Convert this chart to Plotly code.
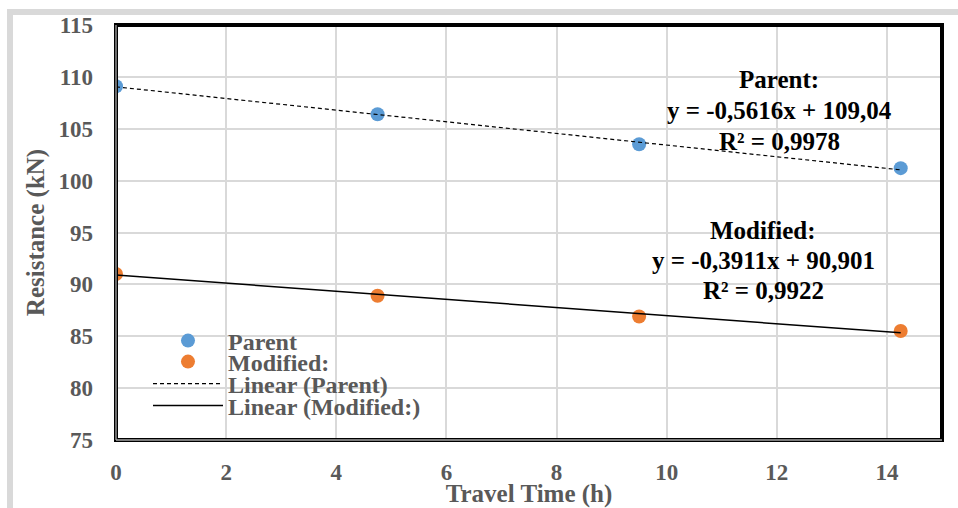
import numpy as np
import plotly.graph_objects as go

# ---- data ----
travel_time = [0, 4.75, 9.5, 14.25]
parent_res = [109.1, 106.4, 103.5, 101.2]
modified_res = [91.0, 88.9, 86.9, 85.5]

parent_slope, parent_icpt, parent_r2 = -0.5616, 109.04, 0.9978
mod_slope, mod_icpt, mod_r2 = -0.3911, 90.901, 0.9922

x_ticks = [0, 2, 4, 6, 8, 10, 12, 14]
y_ticks = [75, 80, 85, 90, 95, 100, 105, 110, 115]

FONT = "Liberation Serif"
GRAY = "#595959"

# geometry helpers (plot area: x 116..942, y 25..440)
W, H = 958, 508
L, R, T, B = 116, 16, 25, 68
PW, PH = W - L - R, H - T - B


def px(p):
    return (p - L) / PW


def py(p):
    return (H - B - p) / PH


x_fit = np.array([travel_time[0], travel_time[-1]])

fig = go.Figure()
fig.add_trace(go.Scatter(
    x=travel_time, y=parent_res, mode="markers", name="Parent",
    marker=dict(color="#5B9BD5", size=14, line=dict(width=0)), legend="legend"))
fig.add_trace(go.Scatter(
    x=travel_time, y=modified_res, mode="markers", name="Modified:",
    marker=dict(color="#ED7D31", size=14, line=dict(width=0)), legend="legend2"))
fig.add_trace(go.Scatter(
    x=x_fit, y=parent_slope * x_fit + parent_icpt, mode="lines", name="Linear (Parent)",
    line=dict(color="black", width=1.2, dash="4px,3px"), legend="legend3"))
fig.add_trace(go.Scatter(
    x=x_fit, y=mod_slope * x_fit + mod_icpt, mode="lines", name="Linear (Modified:)",
    line=dict(color="black", width=1.5), legend="legend4"))

fmt = lambda v: f"{v}".replace(".", ",")

ann_font = dict(family=FONT, size=25, color="black")
parent_lines = ["Parent:", f"y = {fmt(parent_slope)}x + {fmt(parent_icpt)}", f"R² = {fmt(parent_r2)}"]
mod_lines = ["Modified:", f"y = {fmt(mod_slope)}x + {fmt(mod_icpt)}", f"R² = {fmt(mod_r2)}"]
for lines, xc, ys in [(parent_lines, px(779), [79.5, 110.5, 141]),
                      (mod_lines, px(763), [230, 260, 290])]:
    for txt, yp in zip(lines, ys):
        fig.add_annotation(x=xc, y=py(yp), xref="paper", yref="paper", showarrow=False,
                           text=f"<b>{txt}</b>", font=ann_font, xanchor="center", yanchor="middle")

# outer light-gray chart frame (left and top)
fig.add_shape(type="line", xref="paper", yref="paper", x0=px(10), x1=px(10), y0=py(12), y1=py(H),
              line=dict(color="#d9d9d9", width=6), layer="below")
fig.add_shape(type="line", xref="paper", yref="paper", x0=px(7), x1=px(W), y0=py(12), y1=py(12),
              line=dict(color="#d9d9d9", width=6), layer="below")

# plot border
fig.add_shape(type="rect", xref="paper", yref="paper", x0=0, x1=1, y0=0, y1=1,
              line=dict(color="black", width=4), layer="above")
fig.add_shape(type="line", xref="paper", yref="paper", x0=0, x1=0, y0=0, y1=1,
              line=dict(color="#a6a6a6", width=1.3), layer="above")
fig.add_shape(type="line", xref="paper", yref="paper", x0=0, x1=1, y0=0, y1=0,
              line=dict(color="#a6a6a6", width=1.3), layer="above")

leg_common = dict(font=dict(family=FONT, size=24, color=GRAY, weight="bold"),
                  bgcolor="rgba(0,0,0,0)", xanchor="left", yanchor="middle",
                  itemwidth=70, borderwidth=0)
legend_y = [341, 362, 384, 406]
lx = px(148)
fig.update_layout(
    showlegend=True,
    legend=dict(x=lx, y=py(legend_y[0]), **leg_common),
    legend2=dict(x=lx, y=py(legend_y[1]), **leg_common),
    legend3=dict(x=lx, y=py(legend_y[2]), **leg_common),
    legend4=dict(x=lx, y=py(legend_y[3]), **leg_common),
)

fig.update_xaxes(
    range=[0, 15], tickvals=x_ticks, ticktext=[str(v) for v in x_ticks],
    showgrid=True, gridcolor="#d9d9d9", gridwidth=1.5, zeroline=False, showline=False,
    ticks="", ticklabelstandoff=16, automargin=False,
    tickfont=dict(family=FONT, size=23, color=GRAY, weight="bold"),
    title=dict(text="<b>Travel Time (h)</b>", font=dict(family=FONT, size=25, color=GRAY), standoff=0),
)
fig.update_yaxes(
    range=[75, 115], tickvals=y_ticks, ticktext=[str(v) for v in y_ticks],
    showgrid=True, gridcolor="#d9d9d9", gridwidth=1.5, zeroline=False, showline=False,
    ticks="", ticklabelstandoff=22, automargin=False,
    tickfont=dict(family=FONT, size=23, color=GRAY, weight="bold"),
    title=dict(text="<b>Resistance (kN)</b>", font=dict(family=FONT, size=25, color=GRAY), standoff=6),
)
fig.update_layout(
    width=W, height=H, margin=dict(l=L, r=R, t=T, b=B),
    plot_bgcolor="white", paper_bgcolor="white",
    font=dict(family=FONT, color=GRAY),
)

fig.write_html("out.html", config={"displayModeBar": False},
               post_script="document.body.style.margin='0';")
